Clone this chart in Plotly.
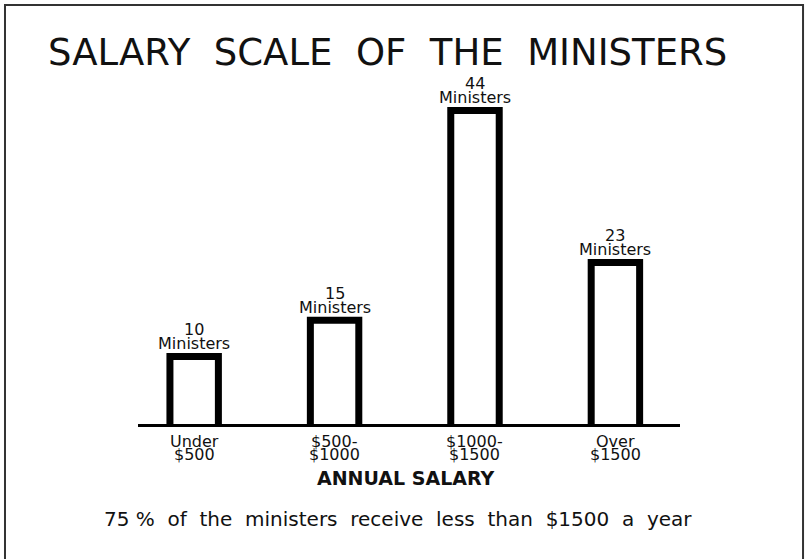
import plotly.graph_objects as go

categories = ["Under $500", "$500-$1000", "$1000-$1500", "Over $1500"]
ministers = [10, 15, 44, 23]
tick_line1 = ["Under", "$500-", "$1000-", "Over"]
tick_line2 = ["$500", "$1000", "$1500", "$1500"]
title_words = ["SALARY", "SCALE", "OF", "THE", "MINISTERS"]
axis_title = "ANNUAL SALARY"
footnote_words = ["75 %", "of", "the", "ministers", "receive", "less", "than", "$1500", "a", "year"]

FONT = "DejaVu Sans"
INK = "#111111"

fig = go.Figure()
fig.add_trace(go.Bar(
    x=categories, y=ministers, width=0.345,
    marker=dict(color="white", line=dict(color="black", width=7)),
    hoverinfo="skip", showlegend=False,
))

ann = []
for c, v in zip(categories, ministers):
    ann.append(dict(x=c, y=v, xref="x", yref="y", text="Ministers", showarrow=False,
                    yanchor="middle", yshift=13, font=dict(family=FONT, size=16, color=INK)))
    ann.append(dict(x=c, y=v, xref="x", yref="y", text=str(v), showarrow=False,
                    yanchor="middle", yshift=27, font=dict(family=FONT, size=16, color=INK)))
for c, l1, l2 in zip(categories, tick_line1, tick_line2):
    ann.append(dict(x=c, y=0, xref="x", yref="paper", text=l1, showarrow=False,
                    yanchor="middle", yshift=-17, font=dict(family=FONT, size=16, color=INK)))
    ann.append(dict(x=c, y=0, xref="x", yref="paper", text=l2, showarrow=False,
                    yanchor="middle", yshift=-30, font=dict(family=FONT, size=16, color=INK)))
ann.append(dict(x=0.494, y=0, xref="paper", yref="paper", text="<b>" + axis_title + "</b>",
                showarrow=False, yanchor="middle", yshift=-54,
                font=dict(family=FONT, size=19, color=INK)))
ann.append(dict(x=0.48, y=0, xref="paper", yref="paper", text="\u00a0 ".join(footnote_words),
                showarrow=False, yanchor="middle", yshift=-95,
                font=dict(family=FONT, size=20, color=INK)))

fig.update_layout(
    width=806, height=559,
    margin=dict(l=138, r=126, t=95, b=135),
    paper_bgcolor="white", plot_bgcolor="white",
    title=dict(text="\u00a0\u00a0".join(title_words), x=0.481, xanchor="center",
               y=1 - 52 / 559, yanchor="middle",
               font=dict(family=FONT, size=37, color=INK)),
    xaxis=dict(type="category", range=[-0.40, 3.46], showline=True, linecolor="black",
               linewidth=3, showgrid=False, showticklabels=False, ticks="", zeroline=False),
    yaxis=dict(range=[0.67, 46.14], visible=False, showgrid=False, zeroline=False),
    annotations=ann,
    shapes=[dict(type="path", xref="paper", yref="paper",
                 path="M -0.2454,-0.45 L -0.2454,1.2736 L 1.227,1.2736 L 1.227,-0.45",
                 line=dict(color="#333333", width=2))],
)

fig.write_html("out.html", config={"displayModeBar": False},
               post_script="document.body.style.margin='0px';")
